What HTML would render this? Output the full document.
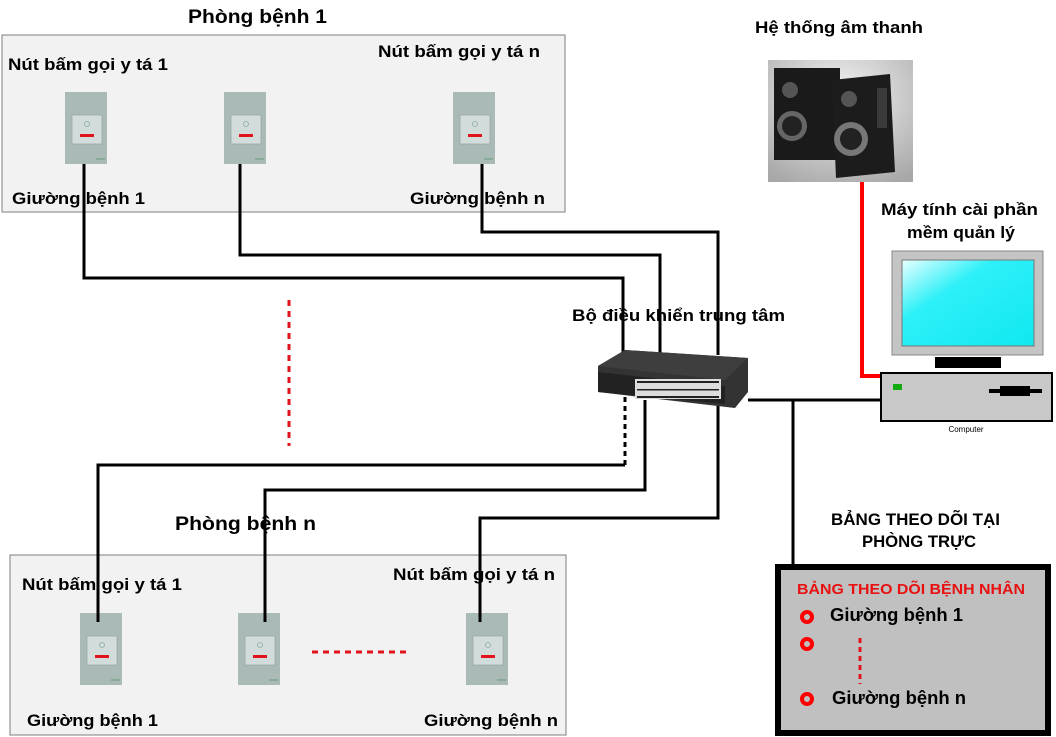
<!DOCTYPE html>
<html><head><meta charset="utf-8"><style>
html,body{margin:0;padding:0;background:#fff;}
svg{display:block;font-family:"Liberation Sans",sans-serif;font-weight:bold;}
</style></head><body>
<svg width="1056" height="737" viewBox="0 0 1056 737">
<defs>
<g id="sw">
<rect x="0" y="0" width="42" height="72" fill="#a9bab7"/>
<rect x="7" y="23" width="30" height="29" fill="#d2dcdb" stroke="#9aa8a6" stroke-width="0.8"/>
<circle cx="22" cy="32" r="2.5" fill="none" stroke="#8aa" stroke-width="0.8"/>
<rect x="15" y="42" width="14" height="3" fill="#e0141a"/>
<rect x="31" y="66" width="9" height="2" fill="#8a9"/>
</g>
<linearGradient id="scr" x1="0" y1="0" x2="1" y2="1"><stop offset="0" stop-color="#e8ffff"/><stop offset="0.35" stop-color="#2ef0f8"/><stop offset="1" stop-color="#10e8f0"/></linearGradient>
<radialGradient id="spk" cx="0.5" cy="0.3" r="0.8"><stop offset="0" stop-color="#f4f4f4"/><stop offset="1" stop-color="#a8a8a8"/></radialGradient>
</defs>
<!-- Room 1 -->
<rect x="2" y="35" width="563" height="177" fill="#f2f2f2" stroke="#7f7f7f" stroke-width="1"/>
<text x="188" y="23" font-size="19" textLength="139" lengthAdjust="spacingAndGlyphs">Phòng bệnh 1</text>
<text x="8" y="70" font-size="17" textLength="160" lengthAdjust="spacingAndGlyphs">Nút bấm gọi y tá 1</text>
<text x="378" y="57" font-size="17" textLength="162" lengthAdjust="spacingAndGlyphs">Nút bấm gọi y tá n</text>
<text x="12" y="204" font-size="17" textLength="133" lengthAdjust="spacingAndGlyphs">Giường bệnh 1</text>
<text x="410" y="204" font-size="17" textLength="135" lengthAdjust="spacingAndGlyphs">Giường bệnh n</text>
<use href="#sw" x="65" y="92"/><use href="#sw" x="224" y="92"/><use href="#sw" x="453" y="92"/>
<!-- Room n -->
<rect x="10" y="555" width="556" height="180" fill="#f2f2f2" stroke="#7f7f7f" stroke-width="1"/>
<text x="175" y="530" font-size="19" textLength="141" lengthAdjust="spacingAndGlyphs">Phòng bệnh n</text>
<text x="22" y="590" font-size="17" textLength="160" lengthAdjust="spacingAndGlyphs">Nút bấm gọi y tá 1</text>
<text x="393" y="580" font-size="17" textLength="162" lengthAdjust="spacingAndGlyphs">Nút bấm gọi y tá n</text>
<text x="27" y="726" font-size="17" textLength="131" lengthAdjust="spacingAndGlyphs">Giường bệnh 1</text>
<text x="424" y="726" font-size="17" textLength="134" lengthAdjust="spacingAndGlyphs">Giường bệnh n</text>
<use href="#sw" x="80" y="613"/><use href="#sw" x="238" y="613"/><use href="#sw" x="466" y="613"/>
<line x1="312" y1="652" x2="406" y2="652" stroke="#e0141a" stroke-width="3" stroke-dasharray="6,5"/>
<line x1="289" y1="300" x2="289" y2="446" stroke="#e0141a" stroke-width="3" stroke-dasharray="6,5"/>
<!-- wires -->
<g fill="none" stroke="#000" stroke-width="3">
<polyline points="84,164 84,278 623,278 623,355"/>
<polyline points="240,164 240,255 660,255 660,355"/>
<polyline points="482,164 482,232 718,232 718,355"/>
<polyline points="645,400 645,490 265,490 265,622"/>
<polyline points="718,400 718,518 480,518 480,622"/>
<polyline points="98,622 98,465 625,465"/>
<polyline points="748,400 880,400"/>
<polyline points="793,400 793,568"/>
</g>
<line x1="625" y1="397" x2="625" y2="465" stroke="#000" stroke-width="3" stroke-dasharray="5,4"/>
<!-- switch device -->
<text x="572" y="321" font-size="17" textLength="213" lengthAdjust="spacingAndGlyphs">Bộ điều khiển trung tâm</text>
<polygon points="598,366 625,350 748,358 748,392 735,408 598,392" fill="#333"/>
<polygon points="598,366 625,350 748,358 725,380" fill="#3e3e3e"/>
<polygon points="598,372 725,386 725,404 598,392" fill="#222"/>
<rect x="635" y="379" width="86" height="20" fill="#ddd"/>
<g fill="#222"><rect x="637" y="381" width="82" height="2"/><rect x="637" y="389" width="82" height="1.5"/><rect x="637" y="396" width="82" height="2"/></g>
<!-- speakers -->
<text x="755" y="33" font-size="17" textLength="168" lengthAdjust="spacingAndGlyphs">Hệ thống âm thanh</text>
<rect x="768" y="60" width="145" height="122" fill="url(#spk)"/>
<rect x="774" y="68" width="66" height="92" fill="#1a1a1a"/>
<circle cx="790" cy="90" r="8" fill="#555"/><circle cx="792" cy="126" r="15" fill="#666"/><circle cx="792" cy="126" r="10" fill="#222"/>
<polygon points="832,80 890,74 895,172 836,178" fill="#1c1c1c"/>
<circle cx="849" cy="99" r="8" fill="#555"/><circle cx="851" cy="139" r="17" fill="#777"/><circle cx="851" cy="139" r="11" fill="#222"/>
<rect x="877" y="88" width="10" height="40" fill="#3a3a3a"/>
<polyline points="862,182 862,376 882,376" fill="none" stroke="#f00" stroke-width="4"/>
<!-- computer -->
<text x="881" y="215" font-size="17" textLength="157" lengthAdjust="spacingAndGlyphs">Máy tính cài phần</text>
<text x="907" y="238" font-size="17" textLength="108" lengthAdjust="spacingAndGlyphs">mềm quản lý</text>
<rect x="892" y="251" width="151" height="104" fill="#c4c4c4" stroke="#888" stroke-width="1"/>
<rect x="902" y="260" width="132" height="86" fill="url(#scr)" stroke="#777"/>
<rect x="935" y="357" width="66" height="11" fill="#000"/>
<rect x="881" y="373" width="171" height="48" fill="#c8c8c8" stroke="#000" stroke-width="2"/>
<rect x="893" y="384" width="9" height="6" fill="#1a1"/>
<rect x="989" y="389" width="53" height="4" fill="#000"/><rect x="1000" y="386" width="30" height="10" fill="#000"/>
<text x="966" y="432" font-size="8" font-weight="normal" text-anchor="middle">Computer</text>
<!-- board -->
<text x="831" y="525" font-size="17" textLength="169" lengthAdjust="spacingAndGlyphs">BẢNG THEO DÕI TẠI</text>
<text x="862" y="547" font-size="17" textLength="114" lengthAdjust="spacingAndGlyphs">PHÒNG TRỰC</text>
<rect x="778" y="567" width="270" height="166" fill="#c0c0c0" stroke="#000" stroke-width="6"/>
<text x="797" y="594" font-size="15" fill="#e81010" textLength="228" lengthAdjust="spacingAndGlyphs">BẢNG THEO DÕI BỆNH NHÂN</text>
<g fill="none" stroke="#f00" stroke-width="4"><circle cx="807" cy="617" r="5"/><circle cx="807" cy="644" r="5"/><circle cx="807" cy="699" r="5"/></g>
<text x="830" y="621" font-size="18" textLength="133" lengthAdjust="spacingAndGlyphs">Giường bệnh 1</text>
<text x="832" y="704" font-size="18" textLength="134" lengthAdjust="spacingAndGlyphs">Giường bệnh n</text>
<line x1="860" y1="638" x2="860" y2="684" stroke="#e0141a" stroke-width="3" stroke-dasharray="5,4"/>
</svg>
</body></html>
